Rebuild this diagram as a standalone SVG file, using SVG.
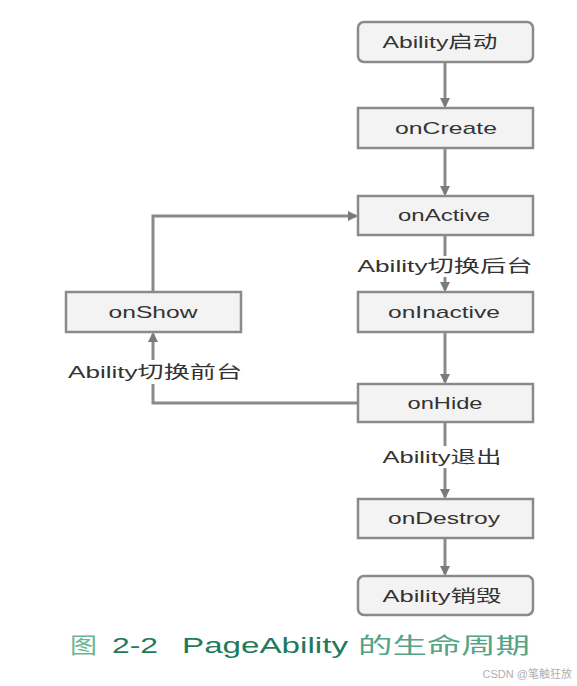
<svg xmlns="http://www.w3.org/2000/svg" width="577" height="686" viewBox="0 0 577 686">
<defs>
<marker id="ah" markerWidth="10" markerHeight="10" refX="8" refY="5" orient="auto" markerUnits="userSpaceOnUse">
<path d="M0,0 L10,5 L0,10 Z" fill="#7a7a7a"/>
</marker>
<style>
.box{fill:#f3f3f3;stroke:#8a8a8a;stroke-width:2.5}
.t{font-family:"Liberation Sans","Noto Sans CJK SC",sans-serif;font-size:17px;fill:#333;text-anchor:middle}
.c{fill:none;stroke:#8a8a8a;stroke-width:3}
.cap{font-family:"Liberation Sans","Noto Sans CJK SC",sans-serif;font-size:22px}
</style>
</defs>
<rect width="577" height="686" fill="#fff"/>
<g id="connectors">
<line class="c" x1="445" y1="62" x2="445" y2="106" marker-end="url(#ah)"/>
<line class="c" x1="445" y1="148" x2="445" y2="194" marker-end="url(#ah)"/>
<line class="c" x1="445" y1="235" x2="445" y2="256"/>
<line class="c" x1="445" y1="277" x2="445" y2="290" marker-end="url(#ah)"/>
<line class="c" x1="445" y1="332" x2="445" y2="382" marker-end="url(#ah)"/>
<line class="c" x1="445" y1="422" x2="445" y2="446"/>
<line class="c" x1="445" y1="468" x2="445" y2="497" marker-end="url(#ah)"/>
<line class="c" x1="445" y1="538" x2="445" y2="574" marker-end="url(#ah)"/>
<polyline class="c" points="153,292 153,216 356,216" marker-end="url(#ah)"/>
<polyline class="c" points="358,403 153,403 153,384"/>
<line class="c" x1="153" y1="360" x2="153" y2="334" marker-end="url(#ah)"/>
<text class="t" x="445" y="272" textLength="175" lengthAdjust="spacingAndGlyphs">Ability切换后台</text>
<text class="t" x="155" y="378" textLength="174" lengthAdjust="spacingAndGlyphs">Ability切换前台</text>
<text class="t" x="442" y="463" textLength="119" lengthAdjust="spacingAndGlyphs">Ability退出</text>
</g>
<g id="n-start"><rect class="box" x="358" y="22" width="175" height="40" rx="6"/><text class="t" x="440" y="48" textLength="115" lengthAdjust="spacingAndGlyphs">Ability启动</text></g>
<g id="n-oncreate"><rect class="box" x="358" y="108" width="175" height="40"/><text class="t" x="446" y="134" textLength="102" lengthAdjust="spacingAndGlyphs">onCreate</text></g>
<g id="n-onactive"><rect class="box" x="358" y="196" width="175" height="39"/><text class="t" x="444" y="221" textLength="92" lengthAdjust="spacingAndGlyphs">onActive</text></g>
<g id="n-oninactive"><rect class="box" x="358" y="292" width="175" height="40"/><text class="t" x="444" y="318" textLength="112" lengthAdjust="spacingAndGlyphs">onInactive</text></g>
<g id="n-onshow"><rect class="box" x="66" y="292" width="175" height="40"/><text class="t" x="153" y="318" textLength="89" lengthAdjust="spacingAndGlyphs">onShow</text></g>
<g id="n-onhide"><rect class="box" x="358" y="384" width="175" height="38"/><text class="t" x="445" y="409" textLength="75" lengthAdjust="spacingAndGlyphs">onHide</text></g>
<g id="n-ondestroy"><rect class="box" x="358" y="499" width="175" height="39"/><text class="t" x="444" y="524" textLength="112" lengthAdjust="spacingAndGlyphs">onDestroy</text></g>
<g id="n-end"><rect class="box" x="358" y="576" width="175" height="39" rx="6"/><text class="t" x="442" y="602" textLength="119" lengthAdjust="spacingAndGlyphs">Ability销毁</text></g>
<g id="caption">
<text class="cap" x="70" y="653" fill="#6cb497" textLength="27" lengthAdjust="spacingAndGlyphs">图</text>
<text class="cap" x="112" y="653" fill="#1f7a5c" textLength="46" lengthAdjust="spacingAndGlyphs">2-2</text>
<text class="cap" x="182" y="653" fill="#1f7a5c" textLength="166" lengthAdjust="spacingAndGlyphs">PageAbility</text>
<text class="cap" x="358" y="653" fill="#55a486" textLength="172" lengthAdjust="spacingAndGlyphs">的生命周期</text>
</g>
<text x="572" y="678" text-anchor="end" font-family="Liberation Sans,Noto Sans CJK SC,sans-serif" font-size="11" fill="#b0b0b0">CSDN @笔触狂放</text>
</svg>
